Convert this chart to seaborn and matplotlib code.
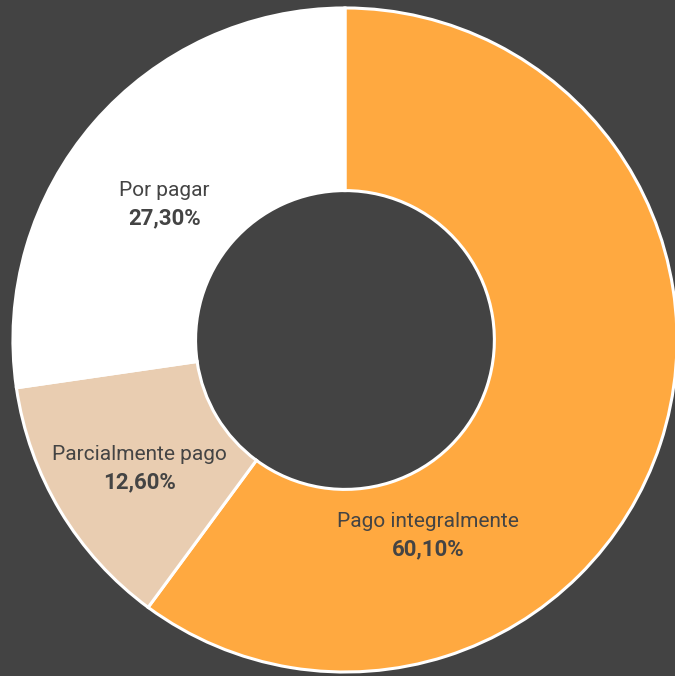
import numpy as np
import matplotlib
matplotlib.use('Agg')
import matplotlib.pyplot as plt
import seaborn as sns

# dados
categorias = ['Pago integralmente', 'Parcialmente pago', 'Por pagar']
percentuais = [60.1, 12.6, 27.3]
rotulos_pct = ['60,10%', '12,60%', '27,30%']

cores = ['#FFA940', '#E9CDB1', '#FFFFFF']
fundo = '#434343'
cor_texto = '#444444'

sns.set_theme(style='white')
plt.rcParams['font.family'] = ['Roboto', 'DejaVu Sans']

fig = plt.figure(figsize=(6.75, 6.76), dpi=100, facecolor=fundo)
ax = fig.add_axes([0, 0, 1, 1])
ax.set_facecolor(fundo)

wedges, _ = ax.pie(percentuais, colors=cores, startangle=90, counterclock=False,
                   radius=1.0,
                   wedgeprops=dict(width=0.55, edgecolor='white', linewidth=2.2))

# posicao dos rotulos (angulo, raio) - layout
pos_rotulos = [(-67, 0.64), (-148, 0.73), (143, 0.68)]
for (ang, r), nome, pct in zip(pos_rotulos, categorias, rotulos_pct):
    x = r * np.cos(np.radians(ang))
    y = r * np.sin(np.radians(ang))
    ax.text(x, y + 0.042, nome, ha='center', va='center', fontsize=15, color=cor_texto)
    ax.text(x, y - 0.042, pct, ha='center', va='center', fontsize=16,
            fontweight='bold', color=cor_texto)

ax.set_xlim(-1.039, 0.994)
ax.set_ylim(-1.012, 1.024)
ax.set_aspect('equal')
ax.axis('off')

fig.savefig('out.png', dpi=100, facecolor=fundo)
